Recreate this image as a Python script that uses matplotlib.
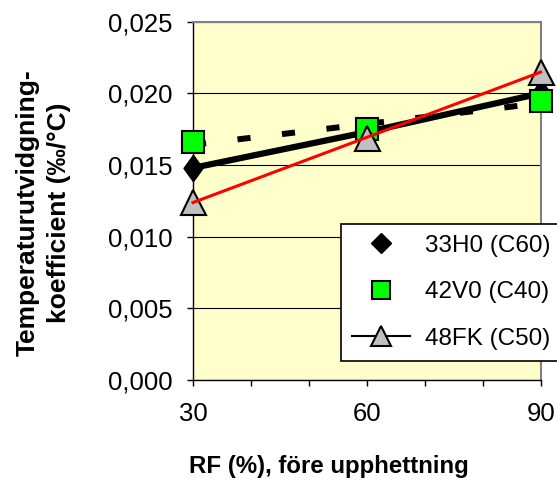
import numpy as np
import matplotlib.pyplot as plt
from matplotlib.ticker import FuncFormatter
from matplotlib.lines import Line2D

plt.rcParams['font.family'] = ['Liberation Sans', 'DejaVu Sans']

# data
rf = [30, 60, 90]
h33 = [0.0148, 0.0173, 0.0200]     # 33H0 (C60)
v42 = [0.0166, 0.0175, 0.0195]     # 42V0 (C40)
fk48 = [0.0124, 0.0169, 0.0215]    # 48FK (C50)
names = ['33H0 (C60)', '42V0 (C40)', '48FK (C50)']
xticks = [30, 40, 50, 60, 70, 80, 90]
xlabels = ['30', '', '', '60', '', '', '90']
yticks = [0.0, 0.005, 0.010, 0.015, 0.020, 0.025]

# Excel-style diamond, a bit taller than wide
diamond = [(0, 1), (0.72, 0), (0, -1), (-0.72, 0), (0, 1)]


def trend(x, y):
    k, m = np.polyfit(x, y, 1)
    return np.polyval([k, m], x)


fig = plt.figure(figsize=(5.57, 4.80), dpi=100)
ax = fig.add_axes([0.3465, 0.2083, 0.6242, 0.7465])
ax.set_facecolor('#FFFFCC')

ax.set_xlim(30, 90)
ax.set_ylim(0, 0.025)
ax.set_xticks(xticks)
ax.set_xticklabels(xlabels)
ax.set_yticks(yticks)
ax.yaxis.set_major_formatter(FuncFormatter(lambda v, p: f'{v:.3f}'.replace('.', ',')))
ax.tick_params(axis='both', direction='out', length=4.5, width=1, labelsize=18.5, color='black')
ax.tick_params(axis='x', pad=11)
ax.tick_params(axis='y', pad=10)
ax.yaxis.grid(True, color='black', lw=0.8)
ax.set_axisbelow(True)
for s in ['top', 'right']:
    ax.spines[s].set_color('#808080')
    ax.spines[s].set_linewidth(1.5)
for s in ['left', 'bottom']:
    ax.spines[s].set_color('black')
    ax.spines[s].set_linewidth(1)

# trend lines
ax.plot(rf, trend(rf, v42), color='black', lw=4.3, dashes=(2.2, 5.3), zorder=3, clip_on=False)
ax.plot(rf, trend(rf, fk48), color='#FF0000', lw=2.2, zorder=6, clip_on=False)

# series
ax.plot(rf, h33, color='black', lw=4.5, zorder=3, clip_on=False)
ax.plot(rf, h33, ls='none', marker=diamond, ms=19, mfc='black', mec='black',
        zorder=4, clip_on=False)
ax.plot(rf, v42, ls='none', marker='s', ms=16, mfc='#00FF00', mec='black', mew=1.5,
        zorder=4, clip_on=False)
ax.plot(rf, fk48, ls='none', marker='^', ms=18, mfc='#C0C0C0', mec='black', mew=1.5,
        zorder=5, clip_on=False)

handles = [
    Line2D([], [], ls='none', marker='D', ms=10, mfc='black', mec='black'),
    Line2D([], [], ls='none', marker='s', ms=12.5, mfc='#00FF00', mec='black', mew=1.5),
    Line2D([], [], color='black', lw=1.5, marker='^', ms=14, mfc='#C0C0C0', mec='black', mew=1.5),
]
leg = fig.legend(handles, names, loc='upper left', bbox_to_anchor=(340.7 / 557, 1 - 224 / 480),
                 fontsize=17.5, frameon=True, fancybox=False, edgecolor='black',
                 framealpha=1, handlelength=2.4, handletextpad=0.6,
                 borderpad=0.45, labelspacing=1.0, borderaxespad=0)
leg.get_frame().set_linewidth(1.2)

fig.text(329 / 557, 1 - 466 / 480, 'RF (%), före upphettning', ha='center', va='center',
         fontsize=17.3, fontweight='bold')
fig.text(0.078, 1 - 213 / 480, 'Temperaturutvidgning-\nkoefficient (‰/°C)', ha='center',
         va='center', rotation=90, fontsize=19, fontweight='bold', linespacing=1.35)

fig.savefig('out.png', dpi=100)
